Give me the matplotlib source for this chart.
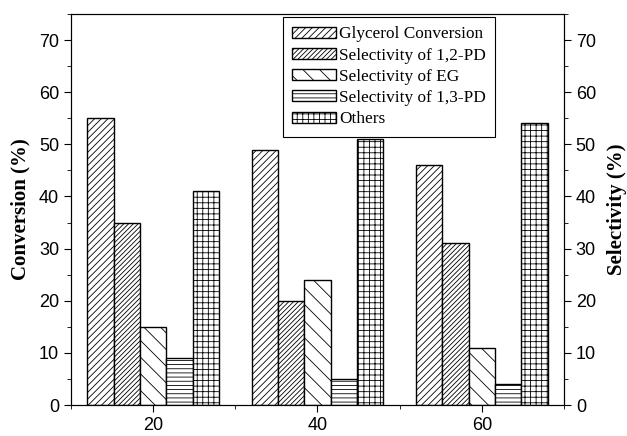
import matplotlib
matplotlib.use('Agg')
import matplotlib.pyplot as plt
import numpy as np
from matplotlib.ticker import MultipleLocator

plt.rcParams['hatch.linewidth'] = 0.6
plt.rcParams['font.family'] = ['Liberation Sans']

temps = [20, 40, 60]
series = ['Glycerol Conversion', 'Selectivity of 1,2-PD', 'Selectivity of EG',
          'Selectivity of 1,3-PD', 'Others']
glycerol_conv = [55, 49, 46]
sel_12pd = [35, 20, 31]
sel_eg = [15, 24, 11]
sel_13pd = [9, 5, 4]
others = [41, 51, 54]
values = [glycerol_conv, sel_12pd, sel_eg, sel_13pd, others]
hatches = ['/////', '///////', '\\\\', '----', '+++']

fig = plt.figure(figsize=(6.27, 4.36), dpi=100)
ax = fig.add_axes([0.1132, 0.0711, 0.7863, 0.8968])

w = 3.2
x = np.array(temps, dtype=float)
for i, (vals, name, h) in enumerate(zip(values, series, hatches)):
    ax.bar(x + (i - 2) * w, vals, width=w, color='white', edgecolor='black',
           hatch=h, linewidth=1.0, label=name)

ax.set_xlim(10, 70)
ax.set_ylim(0, 75)
ax.set_xticks(temps)
ax.xaxis.set_minor_locator(MultipleLocator(10))
ax.yaxis.set_major_locator(MultipleLocator(10))
ax.yaxis.set_minor_locator(MultipleLocator(5))
ax.tick_params(which='both', direction='out', labelsize=13)
ax.tick_params(which='major', length=5)
ax.tick_params(which='minor', length=3)
ax.set_ylabel('Conversion (%)', family='Liberation Serif', fontweight='bold', fontsize=15, labelpad=6)

ax2 = ax.twinx()
ax2.set_ylim(0, 75)
ax2.yaxis.set_major_locator(MultipleLocator(10))
ax2.yaxis.set_minor_locator(MultipleLocator(5))
ax2.tick_params(which='both', direction='out', labelsize=13)
ax2.tick_params(which='major', length=5)
ax2.tick_params(which='minor', length=3)
ax2.set_ylabel('Selectivity (%)', family='Liberation Serif', fontweight='bold', fontsize=15, labelpad=8)

leg = ax.legend(loc='upper left', bbox_to_anchor=(283 / 627, 1 - 17 / 436),
                bbox_transform=fig.transFigure, fancybox=False, framealpha=1,
                edgecolor='black', prop={'family': 'Liberation Serif', 'size': 12.4},
                handlelength=2.55, handleheight=0.6, handletextpad=0.15,
                labelspacing=0.3, borderpad=0.55, borderaxespad=0)
leg.get_frame().set_linewidth(0.8)

fig.savefig('out.png', dpi=100)
